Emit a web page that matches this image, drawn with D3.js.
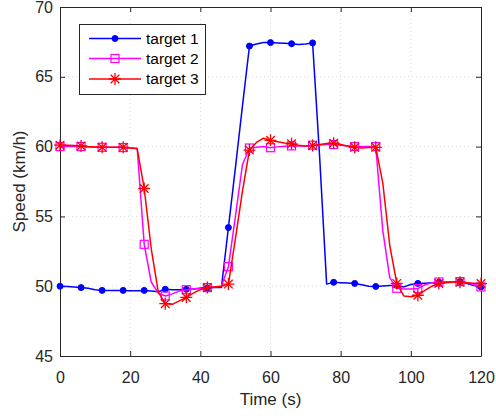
<!DOCTYPE html>
<html>
<head>
<meta charset="utf-8">
<script src="https://cdn.jsdelivr.net/npm/d3@7"></script>
<style>
html,body{margin:0;padding:0;background:#fff;}
svg{display:block;font-family:"Liberation Sans",Arial,Helvetica,sans-serif;}
</style>
</head>
<body>
<svg id="chart" width="496" height="416"></svg>
<script>
// ---- data ----
const time = d3.range(0, 121, 2);
const target1 = [50.0,49.98,49.95,49.9,49.85,49.75,49.7,49.7,49.7,49.7,49.68,49.68,49.7,49.65,49.6,49.78,49.75,49.75,49.78,49.8,49.85,49.88,49.9,49.9,54.2,58.5,62.9,67.2,67.35,67.45,67.45,67.43,67.4,67.37,67.32,67.35,67.43,59.3,50.15,50.28,50.25,50.23,50.2,50.1,50.0,49.98,50.02,50.05,50.05,49.95,50.12,50.2,50.22,50.25,50.28,50.3,50.32,50.33,50.2,50.05,49.95];
const target2 = [60.0,60.0,60.0,60.0,59.97,59.95,59.95,59.95,59.95,59.93,59.9,59.88,53.0,50.3,49.5,49.3,49.45,49.65,49.75,49.8,49.85,49.9,49.95,50.0,51.4,55.0,58.7,59.9,59.95,60.0,59.92,59.98,60.03,60.05,60.05,60.05,60.1,60.12,60.15,60.15,60.1,60.05,60.0,60.0,60.0,60.0,54.0,50.6,49.85,49.8,49.8,49.83,50.1,50.25,50.3,50.3,50.32,50.33,50.25,50.1,49.95];
const target3 = [60.1,60.1,60.07,60.05,60.0,59.98,59.95,59.95,59.95,59.95,59.9,59.85,57.0,52.7,49.6,48.75,48.7,48.95,49.2,49.5,49.75,49.9,49.95,50.0,50.15,53.4,56.8,59.75,60.3,60.6,60.45,60.35,60.25,60.2,60.1,60.05,60.07,60.15,60.22,60.24,60.15,60.05,59.95,59.9,59.93,59.95,57.4,52.9,50.2,49.3,49.25,49.35,49.7,50.0,50.2,50.25,50.28,50.29,50.25,50.22,50.19];
const seriesNames = ["target 1","target 2","target 3"];
const seriesColors = ["#0000ff","#ff00ff","#ff0000"];
const seriesMarkers = ["dot","square","asterisk"];
const xTicks = [0,20,40,60,80,100,120];
const yTicks = [45,50,55,60,65,70];
const markerStep = 6;

// ---- layout ----
const svg = d3.select("#chart");
const L = 60, R = 481, T = 7, B = 356;
const x = d3.scaleLinear().domain([0,120]).range([L,R]);
const y = d3.scaleLinear().domain([45,70]).range([B,T]);
const axisColor = "#262626";

// grid
const grid = svg.append("g");
grid.selectAll(".gx").data(xTicks.slice(1,-1)).enter().append("line")
  .attr("x1",d=>x(d)).attr("x2",d=>x(d)).attr("y1",T).attr("y2",B)
  .attr("stroke","#dcdcdc").attr("stroke-width",1).attr("stroke-dasharray","1,3");
grid.selectAll(".gy").data(yTicks.slice(1,-1)).enter().append("line")
  .attr("y1",d=>y(d)).attr("y2",d=>y(d)).attr("x1",L).attr("x2",R)
  .attr("stroke","#dcdcdc").attr("stroke-width",1).attr("stroke-dasharray","1,3");

// axes
const tickLen = 5;
const ax = svg.append("g").attr("transform",`translate(0,${B})`)
  .call(d3.axisBottom(x).tickValues(xTicks).tickSizeInner(-tickLen).tickSizeOuter(0).tickPadding(15.5));
const ax2 = svg.append("g").attr("transform",`translate(0,${T})`)
  .call(d3.axisTop(x).tickValues(xTicks).tickSizeInner(-tickLen).tickSizeOuter(0).tickFormat(""));
const ay = svg.append("g").attr("transform",`translate(${L},0)`)
  .call(d3.axisLeft(y).tickValues(yTicks).tickSizeInner(-tickLen).tickSizeOuter(0).tickPadding(7));
const ay2 = svg.append("g").attr("transform",`translate(${R},0)`)
  .call(d3.axisRight(y).tickValues(yTicks).tickSizeInner(-tickLen).tickSizeOuter(0).tickFormat(""));
[ax,ax2,ay,ay2].forEach(g=>{
  g.select(".domain").attr("stroke",axisColor).attr("stroke-width",1);
  g.selectAll(".tick line").attr("stroke",axisColor).attr("stroke-width",1);
  g.selectAll(".tick text").attr("fill",axisColor).attr("font-size",16).attr("font-family","Liberation Sans, Arial, sans-serif");
});

// axis labels
svg.append("text").attr("x",(L+R)/2).attr("y",405).attr("text-anchor","middle")
  .attr("font-size",17).attr("fill",axisColor).text("Time (s)");
svg.append("text").attr("transform",`translate(25,${(T+B)/2}) rotate(-90)`).attr("text-anchor","middle")
  .attr("font-size",17).attr("fill",axisColor).text("Speed (km/h)");

// markers
function drawMarker(g, type, color, cx, cy){
  if(type==="dot"){
    g.append("circle").attr("cx",cx).attr("cy",cy).attr("r",3).attr("fill",color).attr("stroke",color);
  } else if(type==="square"){
    g.append("rect").attr("x",cx-4).attr("y",cy-4).attr("width",8).attr("height",8)
      .attr("fill","none").attr("stroke",color).attr("stroke-width",1.2);
  } else {
    const s=6, d=4.3;
    g.append("path").attr("d",`M${cx-s},${cy}L${cx+s},${cy}M${cx},${cy-s}L${cx},${cy+s}M${cx-d},${cy-d}L${cx+d},${cy+d}M${cx-d},${cy+d}L${cx+d},${cy-d}`)
      .attr("stroke",color).attr("stroke-width",1.3).attr("fill","none");
  }
}

const allSeries = [target1,target2,target3];
const line = d3.line().x(d=>x(d[0])).y(d=>y(d[1]));
const plot = svg.append("g");
allSeries.forEach((vals,i)=>{
  const pts = time.map((t,k)=>[t,vals[k]]);
  plot.append("path").datum(pts).attr("d",line).attr("fill","none")
    .attr("stroke",seriesColors[i]).attr("stroke-width",1.5).attr("stroke-linejoin","round");
  const mg = plot.append("g");
  pts.filter(p=>p[0]%markerStep===0).forEach(p=>drawMarker(mg,seriesMarkers[i],seriesColors[i],x(p[0]),y(p[1])));
});

// legend
const lg = svg.append("g");
lg.append("rect").attr("x",79.5).attr("y",24.5).attr("width",126).attr("height",70)
  .attr("fill","#fff").attr("stroke",axisColor).attr("stroke-width",1);
const rowY = [38.5,58.5,79];
seriesNames.forEach((n,i)=>{
  lg.append("line").attr("x1",89).attr("x2",141).attr("y1",rowY[i]).attr("y2",rowY[i])
    .attr("stroke",seriesColors[i]).attr("stroke-width",1.5);
  drawMarker(lg,seriesMarkers[i],seriesColors[i],115,rowY[i]);
  lg.append("text").attr("x",146).attr("y",rowY[i]).attr("dy","0.35em")
    .attr("font-size",15.5).attr("fill","#000").text(n);
});
</script>
</body>
</html>
